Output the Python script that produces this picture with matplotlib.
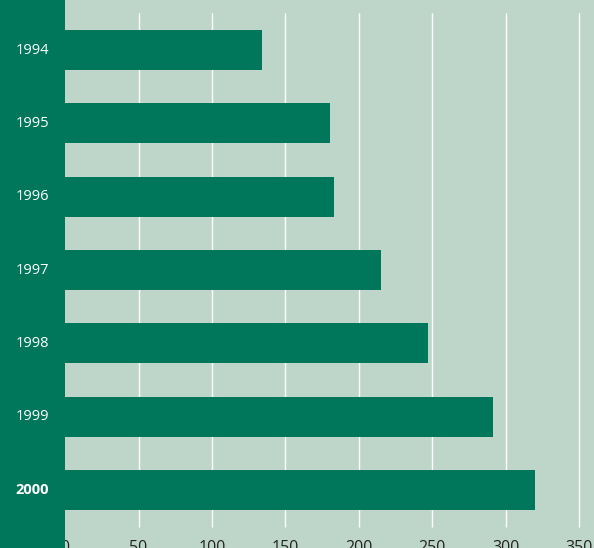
import matplotlib
matplotlib.use("Agg")
import matplotlib.pyplot as plt

# data
years = ["1994", "1995", "1996", "1997", "1998", "1999", "2000"]
values = [134, 180, 183, 215, 247, 291, 320]
xticks = [0, 50, 100, 150, 200, 250, 300, 350]
bold_year = "2000"

BG = "#bed6c9"
GREEN = "#00765a"

plt.rcParams["font.family"] = ["Open Sans", "DejaVu Sans"]

fig = plt.figure(figsize=(5.94, 5.48), dpi=100)
fig.patch.set_facecolor(BG)
ax = fig.add_axes([0, 0, 1, 1])
ax.set_facecolor(BG)

left_pad = 65 / 1.4686          # width of the dark label column, data units
ax.set_xlim(-left_pad, 360)
ax.set_ylim(6.791, -0.682)

pos = list(range(len(years)))
ax.barh(pos, values, height=0.545, color=GREEN, zorder=2)

# gridlines only between the first and last category band
ax.vlines(xticks[1:], -0.5, len(years) - 0.5, color="white", linewidth=1.0, zorder=1)

# dark label column on the left
ax.axvspan(-left_pad, 0, color=GREEN, zorder=3, linewidth=0)

for p, y in zip(pos, years):
    ax.text(-left_pad / 2, p, y, ha="center", va="center", color="white",
            fontsize=10.5, fontweight="bold" if y == bold_year else "normal", zorder=4)

ax.set_xticks(xticks)
ax.set_xticklabels([str(t) for t in xticks])
ax.tick_params(axis="x", length=0, pad=-5.5, labelsize=11.5, labelcolor="#222222")
ax.set_yticks([])
for s in ax.spines.values():
    s.set_visible(False)

fig.savefig("out.png", dpi=100, facecolor=BG)
